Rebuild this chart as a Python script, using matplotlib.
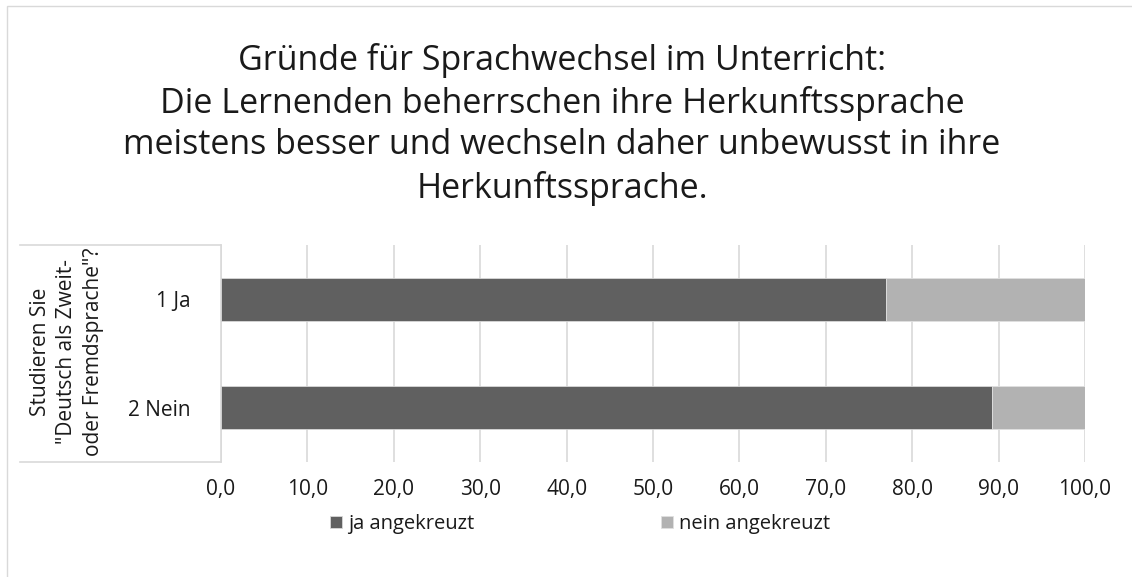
import matplotlib
matplotlib.use("Agg")
import matplotlib.pyplot as plt
from matplotlib.patches import Rectangle
from matplotlib.lines import Line2D

plt.rcParams['font.family'] = ['Open Sans', 'DejaVu Sans']

categories = ["1 Ja", "2 Nein"]
ja_values = [77.0, 89.2]
nein_values = [23.0, 10.8]
series_names = ["ja angekreuzt", "nein angekreuzt"]
xticks = [0, 10, 20, 30, 40, 50, 60, 70, 80, 90, 100]
title = ("Gründe für Sprachwechsel im Unterricht:\n"
         "Die Lernenden beherrschen ihre Herkunftssprache\n"
         "meistens besser und wechseln daher unbewusst in ihre\n"
         "Herkunftssprache.")
ylabel = 'Studieren Sie\n"Deutsch als Zweit-\noder Fremdsprache"?'

W, H = 1132, 577
fig = plt.figure(figsize=(W / 100, H / 100), dpi=100)
ax = fig.add_axes([221 / W, 1 - 462 / H, (1085 - 221) / W, (462 - 245) / H])

dark = "#606060"
light = "#b2b2b2"
txt = "#1a1a1a"
ypos = list(range(len(categories)))
ax.barh(ypos, ja_values, height=0.4, color=dark, edgecolor="#d8d8d8", linewidth=0.6,
        label=series_names[0], zorder=3)
ax.barh(ypos, nein_values, left=ja_values, height=0.4, color=light, edgecolor="#e0e0e0",
        linewidth=0.6, label=series_names[1], zorder=3)

ax.set_xlim(0, 100)
ax.set_ylim(len(categories) - 0.5, -0.5)
ax.set_xticks(xticks)
ax.set_xticklabels([f"{v:.1f}".replace(".", ",") for v in xticks], fontsize=15, color=txt)
ax.set_yticks(ypos)
ax.set_yticklabels(categories, fontsize=15, color=txt)
ax.tick_params(axis="both", length=0)
ax.tick_params(axis="x", pad=12)
ax.tick_params(axis="y", pad=22)
ax.xaxis.grid(True, color="#d9d9d9", linewidth=1.2, zorder=0)
ax.set_axisbelow(True)
for s in ["top", "right", "bottom"]:
    ax.spines[s].set_visible(False)
ax.spines["left"].set_color("#d9d9d9")
ax.spines["left"].set_linewidth(1.2)

# category box lines
for yy in [245, 462]:
    fig.add_artist(Line2D([20 / W, 221 / W], [1 - yy / H, 1 - yy / H], color="#d9d9d9", lw=1.2))

fig.text(67 / W, 1 - 352 / H, ylabel, rotation=90, ha="center", va="center",
         fontsize=15, color=txt, linespacing=1.35)

fig.text(562 / W, 1 - 124 / H, title, ha="center", va="center", fontsize=24.5,
         color=txt, linespacing=1.3)

# chart border
fig.add_artist(Rectangle((7 / W, -0.01), 1.2, 1 - 0 / H, transform=fig.transFigure,
                         fill=False, edgecolor="#d9d9d9", lw=1.0))

leg = fig.legend(loc="center", bbox_to_anchor=(580 / W, 1 - 524 / H), ncol=2, frameon=False,
                 fontsize=14.5, handlelength=0.6, handleheight=0.6, handletextpad=0.3,
                 columnspacing=9.3, labelcolor=txt)

fig.savefig("out.png", dpi=100)
